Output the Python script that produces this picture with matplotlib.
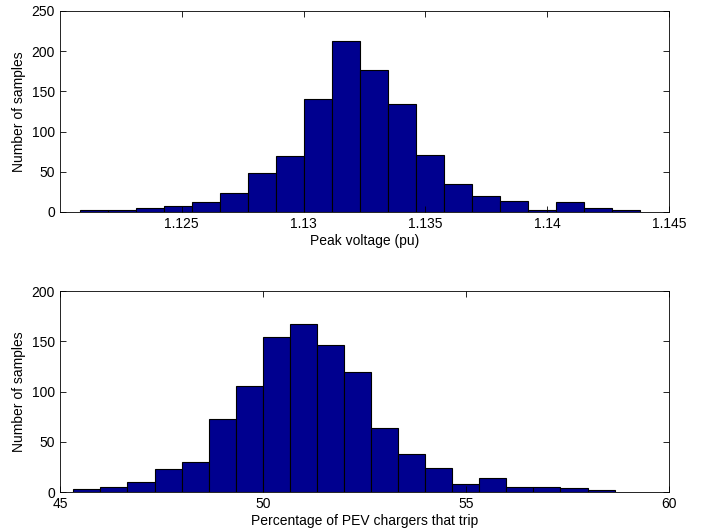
import matplotlib.pyplot as plt
import numpy as np

plt.rcParams['font.family'] = ['Liberation Sans', 'DejaVu Sans']

# peak voltage histogram (20 equal bins)
v_lo, v_hi = 1.12082, 1.14383
v_counts = [3, 3, 5, 7, 13, 23, 49, 70, 141, 213,
            177, 134, 71, 35, 20, 14, 3, 12, 5, 2]

# percentage of PEV chargers that trip (20 equal bins)
p_lo, p_hi = 45.33, 58.66
p_counts = [3, 5, 10, 23, 30, 73, 106, 154, 167, 146,
            119, 64, 38, 24, 8, 14, 5, 5, 4, 2]

BAR = '#00008f'


def hist_panel(ax, lo, hi, counts, xlim, xticks, ylim, yticks, xlabel):
    edges = np.linspace(lo, hi, len(counts) + 1)
    ax.bar(edges[:-1], counts, width=np.diff(edges), align='edge',
           color=BAR, edgecolor='black', linewidth=0.8)
    ax.set_xlim(xlim)
    ax.set_ylim(ylim)
    ax.set_xticks(xticks)
    ax.set_yticks(yticks)
    ax.tick_params(direction='in', top=True, right=True, labelsize=10,
                   length=4, width=0.6)
    for s in ax.spines.values():
        s.set_linewidth(0.6)
    ax.set_xlabel(xlabel, fontsize=10, labelpad=2)
    ax.set_ylabel('Number of samples', fontsize=10)


fig = plt.figure(figsize=(7.03, 5.31), dpi=100)
ax1 = fig.add_axes([0.0853, 0.6008, 0.8663, 0.3785])
ax2 = fig.add_axes([0.0853, 0.0734, 0.8663, 0.3785])

hist_panel(ax1, v_lo, v_hi, v_counts, (1.12, 1.145),
           [1.125, 1.13, 1.135, 1.14, 1.145], (0, 250),
           [0, 50, 100, 150, 200, 250], 'Peak voltage (pu)')
ax1.set_xticklabels(['1.125', '1.13', '1.135', '1.14', '1.145'])

hist_panel(ax2, p_lo, p_hi, p_counts, (45, 60), [45, 50, 55, 60],
           (0, 200), [0, 50, 100, 150, 200],
           'Percentage of PEV chargers that trip')

fig.savefig('out.png', dpi=100)
